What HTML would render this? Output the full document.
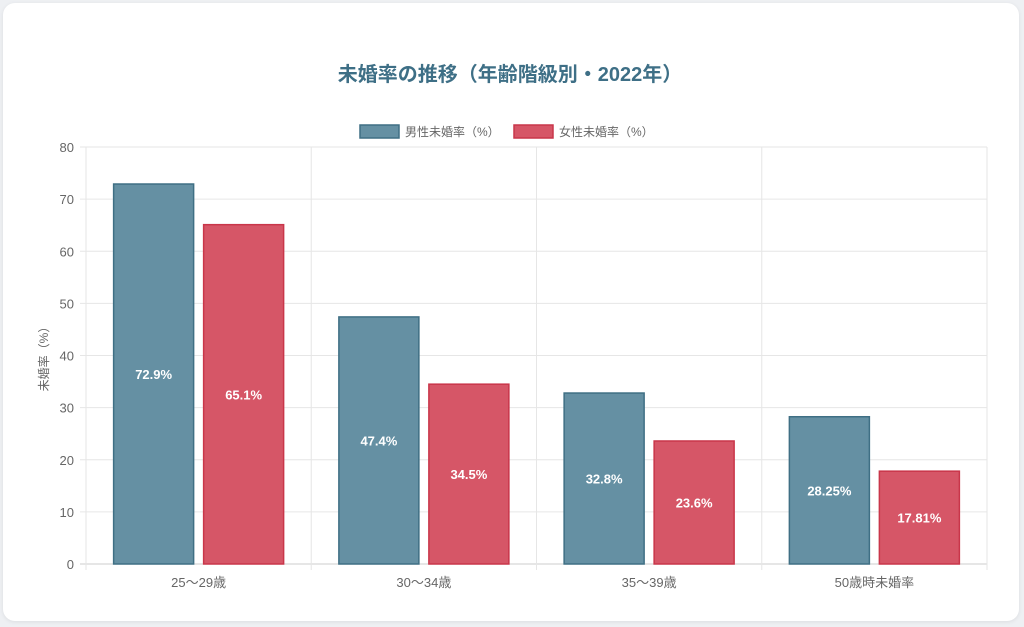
<!DOCTYPE html>
<html><head><meta charset="utf-8"><style>
body{margin:0;background:#eef0f3;width:1024px;height:627px;overflow:hidden;font-family:"Liberation Sans","Noto Sans CJK JP",sans-serif}
.card{position:absolute;left:3px;top:3px;width:1016px;height:618px;background:#fff;border-radius:12px;box-shadow:0 1px 4px rgba(0,0,0,.08)}
svg{position:absolute;left:0;top:0}
</style></head><body>
<div class="card"></div>
<svg id="c" width="1024" height="627">
<text x="510" y="81" text-anchor="middle" font-size="20" font-weight="bold" fill="#3e6f86">未婚率の推移（年齢階級別・2022年）</text>
<g>
<rect x="360" y="125" width="39" height="13" fill="#6590a3" stroke="#3f6f84" stroke-width="1.5"/>
<text x="405" y="136" font-size="12" fill="#666">男性未婚率（%）</text>
<rect x="514" y="125" width="39" height="13" fill="#d65667" stroke="#c9364a" stroke-width="1.5"/>
<text x="559" y="136" font-size="12" fill="#666">女性未婚率（%）</text>
</g>
<text transform="translate(48,356) rotate(-90)" text-anchor="middle" font-size="12" fill="#666">未婚率（%）</text>
<g id="g"></g>
</svg>
<script>
const categories=["25〜29歳","30〜34歳","35〜39歳","50歳時未婚率"];
const male=[72.9,47.4,32.8,28.25];
const female=[65.1,34.5,23.6,17.81];
const maleLabels=["72.9%","47.4%","32.8%","28.25%"];
const femaleLabels=["65.1%","34.5%","23.6%","17.81%"];
const yTicks=[0,10,20,30,40,50,60,70,80];
const L=86,R=987,T=147,B=564,ymax=80;
const y=v=>B-(v/ymax)*(B-T);
const cw=(R-L)/categories.length;
const x=i=>L+cw*i;
const g=document.getElementById('g');
const NS='http://www.w3.org/2000/svg';
function mk(t,a){const e=document.createElementNS(NS,t);for(const k in a)e.setAttribute(k,a[k]);g.appendChild(e);return e;}
yTicks.forEach(v=>{
 const l=mk('line',{x1:L-6,x2:R,y1:y(v),y2:y(v),stroke:v===0?'#ccc':'#e6e6e6'});
 
 
 const t=mk('text',{x:L-12,y:y(v)+5,'text-anchor':'end','font-size':13,fill:'#666'});t.textContent=v;
 
 
});
for(let i=0;i<=categories.length;i++){
 const l=mk('line',{x1:x(i),x2:x(i),y1:T,y2:B+6,stroke:'#e6e6e6'});
 
 
}
categories.forEach((c,i)=>{
 const cx=x(i)+cw/2,bw=80,gap=10;
 const mx=cx-gap/2-bw,fx=cx+gap/2;
 const m=mk('rect',{x:mx,y:y(male[i]),width:bw,height:B-y(male[i]),fill:'#6590a3',stroke:'#3f6f84','stroke-width':1.5});
 
 
 const f=mk('rect',{x:fx,y:y(female[i]),width:bw,height:B-y(female[i]),fill:'#d65667',stroke:'#c9364a','stroke-width':1.5});
 
 
 const mt=mk('text',{x:mx+bw/2,y:(y(male[i])+B)/2+5,'text-anchor':'middle','font-size':13,'font-weight':'bold',fill:'#fff'});mt.textContent=maleLabels[i];
 
 
 const ft=mk('text',{x:fx+bw/2,y:(y(female[i])+B)/2+5,'text-anchor':'middle','font-size':13,'font-weight':'bold',fill:'#fff'});ft.textContent=femaleLabels[i];
 
 
 const xt=mk('text',{x:cx,y:B+23,'text-anchor':'middle','font-size':13,fill:'#666'});xt.textContent=c;
 
 
});
</script>
</body></html>
